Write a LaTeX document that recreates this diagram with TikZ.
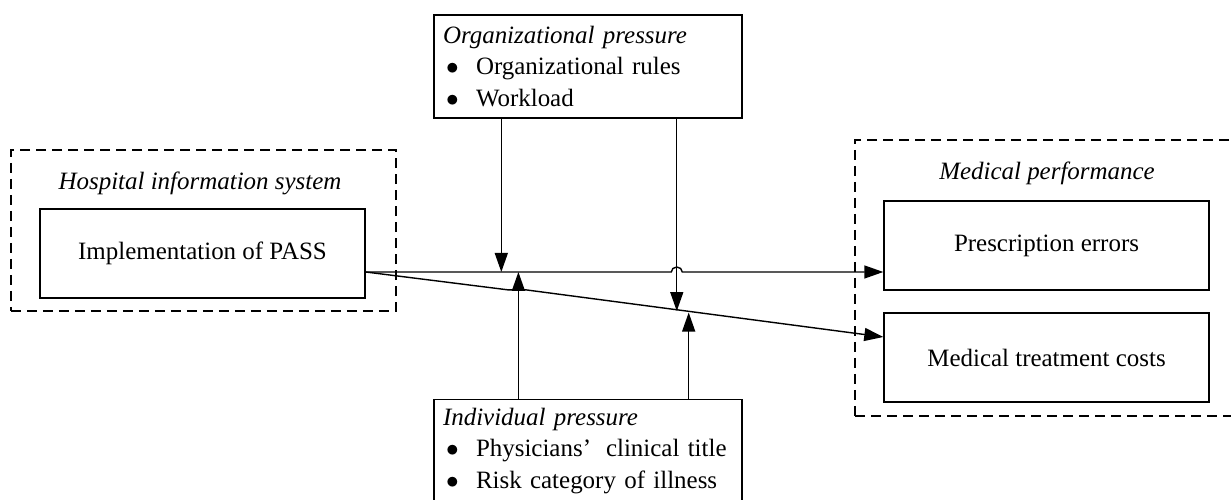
\documentclass[tikz,border=0pt]{standalone}
\usepackage{fontspec}
\setmainfont{Liberation Serif}
\usepackage{tikz}
\usetikzlibrary{arrows.meta, calc, positioning}

\newcommand{\itembul}{\hspace*{0.06cm}\makebox[0.6cm][l]{$\bullet$}}

\begin{document}
\begin{tikzpicture}[->, >={Triangle[length=0.38cm, width=0.26cm]}, line width=0.8pt, font=\fontsize{14.2}{18}\selectfont,
                    box/.style={rectangle, draw, minimum width=6.5cm, minimum height=1.78cm},
                    group/.style={rectangle, draw, dash pattern=on 0.2cm off 0.12cm, minimum width=7.7cm},
                    factor/.style={rectangle, draw, text width=5.8cm, inner xsep=0.18cm, align=left, minimum height=2.06cm}]
                        \useasboundingbox (0, 0) rectangle (24.62, 10);
                        \clip (0, 0) rectangle (24.62, 10);

                        \node [group, minimum height=3.22cm] (his) at (4.07, 5.39) {};
                        \node (histitle) at (4.0, 6.34) {\textit{Hospital information system}};
                        \node [box] (pass) at (4.05, 4.93) {Implementation of PASS};

                        \node [group, minimum height=5.52cm] (perf) at (20.95, 4.44) {};
                        \node (perftitle) at (20.94, 6.54) {\textit{Medical performance}};
                        \node [box] (errors) at (20.93, 5.09) {Prescription errors};
                        \node [box] (costs) at (20.93, 2.85) {Medical treatment costs};

                        \node [factor] (org) at (11.76, 8.67) {\textit{Organizational pressure}\\ \itembul Organizational rules\\ \itembul Workload};
                        \node [factor] (ind) at (11.76, 0.98) {\textit{Individual pressure}\\ \itembul Physicians’\hspace{0.6em}clinical title\\ \itembul Risk category of illness};

                        \coordinate (src) at ([yshift=-0.37cm]pass.east);
                        \coordinate (dst1) at ([yshift=-0.53cm]errors.west);
                        \coordinate (dst2) at ([yshift=0.41cm]costs.west);
                        \coordinate (h1) at ($(src)!0.262!(dst1)$);
                        \coordinate (h2) at ($(src)!0.295!(dst1)$);
                        \coordinate (d1) at ($(src)!0.601!(dst2)$);
                        \coordinate (d2) at ($(src)!0.624!(dst2)$);
                        \coordinate (j1) at ($(src)!0.2755!(dst2)$);
                        \coordinate (j2) at ($(src)!0.31!(dst2)$);

                        \draw (src) -- ($(d1 |- src)+(-0.11, 0)$) arc [start angle=180, end angle=0, x radius=0.11cm, y radius=0.1cm] -- (dst1);
                        \draw (src) -- (j1) -- (j1 -| j2) -- (dst2);

                        \draw (org.south -| h1) -- (h1);
                        \draw (org.south -| d1) -- (d1);
                        \draw (ind.north -| h2) -- (h2);
                        \draw (ind.north -| d2) -- (d2);
                    \end{tikzpicture}
\end{document}
